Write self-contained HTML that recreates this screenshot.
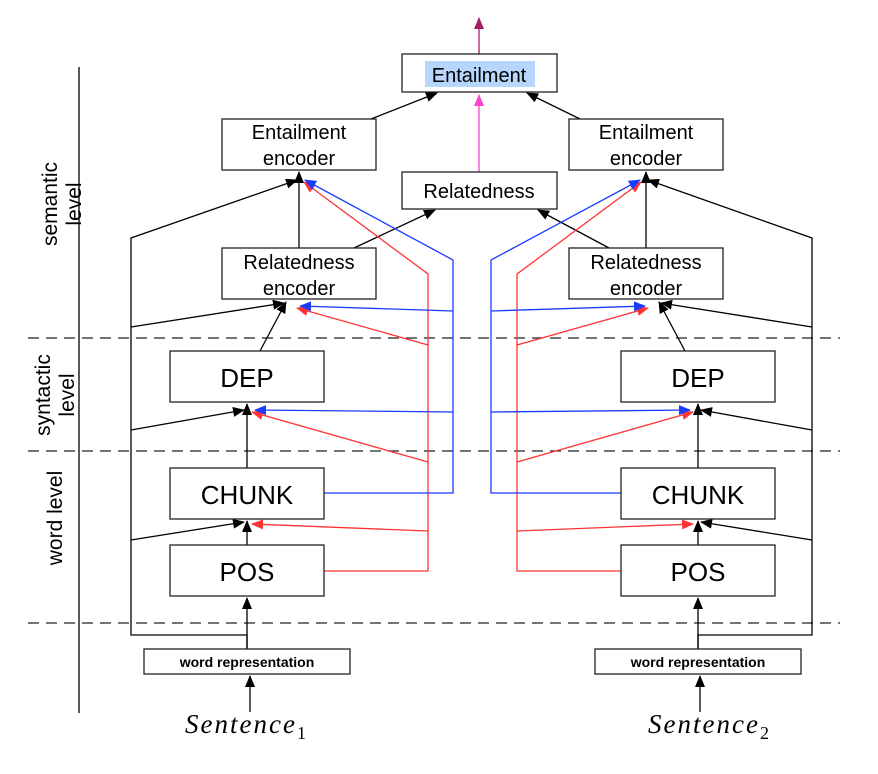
<!DOCTYPE html>
<html><head><style>body{margin:0;background:#fff}svg{display:block}</style></head><body>
<svg width="878" height="774" viewBox="0 0 878 774" xmlns="http://www.w3.org/2000/svg" font-family="Liberation Sans, Arial, sans-serif">
<defs>
<marker id="k" markerWidth="12" markerHeight="10" refX="11" refY="5" orient="auto" markerUnits="userSpaceOnUse"><path d="M0,0L12,5L0,10z" fill="#000"/></marker>
<marker id="r" markerWidth="12" markerHeight="10" refX="11" refY="5" orient="auto" markerUnits="userSpaceOnUse"><path d="M0,0L12,5L0,10z" fill="#f33"/></marker>
<marker id="b" markerWidth="12" markerHeight="10" refX="11" refY="5" orient="auto" markerUnits="userSpaceOnUse"><path d="M0,0L12,5L0,10z" fill="#1a3cff"/></marker>
<marker id="p" markerWidth="12" markerHeight="10" refX="11" refY="5" orient="auto" markerUnits="userSpaceOnUse"><path d="M0,0L12,5L0,10z" fill="#f4c"/></marker>
<marker id="m" markerWidth="12" markerHeight="10" refX="11" refY="5" orient="auto" markerUnits="userSpaceOnUse"><path d="M0,0L12,5L0,10z" fill="#a0206a"/></marker>
</defs>
<g stroke="#222" stroke-width="1.3" stroke-dasharray="11,7">
<line x1="28" y1="338" x2="840" y2="338"/><line x1="28" y1="451" x2="840" y2="451"/><line x1="28" y1="623" x2="840" y2="623"/>
</g>
<line x1="79" y1="67" x2="79" y2="713" stroke="#000" stroke-width="1.3"/>
<g font-size="21" fill="#000" text-anchor="middle">
<text transform="translate(57,204) rotate(-90)">semantic</text>
<text transform="translate(81,204) rotate(-90)">level</text>
<text transform="translate(50,395) rotate(-90)">syntactic</text>
<text transform="translate(74,395) rotate(-90)">level</text>
<text transform="translate(62,518) rotate(-90)">word level</text>
</g>
<line x1="479" y1="54" x2="479" y2="18" stroke="#a0206a" stroke-width="1.3" marker-end="url(#m)"/>
<line x1="479" y1="172" x2="479" y2="95" stroke="#f4c" stroke-width="1.3" marker-end="url(#p)"/>
<g fill="none" stroke="#000" stroke-width="1.3">
<polyline points="247,649 247,635 131,635 131,238 297,180" marker-end="url(#k)"/>
<line x1="299" y1="248" x2="299" y2="172" marker-end="url(#k)"/>
<line x1="131" y1="327" x2="284" y2="303" marker-end="url(#k)"/>
<line x1="260" y1="351" x2="286" y2="302" marker-end="url(#k)"/>
<line x1="131" y1="430" x2="244" y2="410" marker-end="url(#k)"/>
<line x1="247" y1="468" x2="247" y2="404" marker-end="url(#k)"/>
<line x1="131" y1="540" x2="244" y2="522" marker-end="url(#k)"/>
<line x1="247" y1="545" x2="247" y2="521" marker-end="url(#k)"/>
<line x1="247" y1="649" x2="247" y2="598" marker-end="url(#k)"/>
<line x1="250" y1="712" x2="250" y2="676" marker-end="url(#k)"/>
<line x1="371" y1="119" x2="437" y2="93" marker-end="url(#k)"/>
<line x1="354" y1="248" x2="435" y2="210" marker-end="url(#k)"/>
<polyline points="698,649 698,635 812,635 812,238 648,180" marker-end="url(#k)"/>
<line x1="646" y1="248" x2="646" y2="172" marker-end="url(#k)"/>
<line x1="812" y1="327" x2="661" y2="303" marker-end="url(#k)"/>
<line x1="685" y1="351" x2="659" y2="302" marker-end="url(#k)"/>
<line x1="812" y1="430" x2="701" y2="410" marker-end="url(#k)"/>
<line x1="698" y1="468" x2="698" y2="404" marker-end="url(#k)"/>
<line x1="812" y1="540" x2="701" y2="522" marker-end="url(#k)"/>
<line x1="698" y1="545" x2="698" y2="521" marker-end="url(#k)"/>
<line x1="698" y1="649" x2="698" y2="598" marker-end="url(#k)"/>
<line x1="700" y1="712" x2="700" y2="676" marker-end="url(#k)"/>
<line x1="580" y1="119" x2="527" y2="93" marker-end="url(#k)"/>
<line x1="609" y1="248" x2="538" y2="210" marker-end="url(#k)"/>
</g>
<g fill="none" stroke="#f33" stroke-width="1.3">
<polyline points="324,571 428,571 428,274 304,182" marker-end="url(#r)"/>
<line x1="428" y1="531" x2="252" y2="524" marker-end="url(#r)"/>
<line x1="428" y1="462" x2="252" y2="412" marker-end="url(#r)"/>
<line x1="428" y1="345" x2="297" y2="308" marker-end="url(#r)"/>
<polyline points="621,571 517,571 517,274 641,182" marker-end="url(#r)"/>
<line x1="517" y1="531" x2="693" y2="524" marker-end="url(#r)"/>
<line x1="517" y1="462" x2="693" y2="412" marker-end="url(#r)"/>
<line x1="517" y1="345" x2="648" y2="308" marker-end="url(#r)"/>
</g>
<g fill="none" stroke="#1a3cff" stroke-width="1.3">
<polyline points="324,493 453,493 453,260 305,180" marker-end="url(#b)"/>
<line x1="453" y1="412" x2="255" y2="410" marker-end="url(#b)"/>
<line x1="453" y1="311" x2="300" y2="306" marker-end="url(#b)"/>
<polyline points="621,493 491,493 491,260 640,180" marker-end="url(#b)"/>
<line x1="491" y1="412" x2="690" y2="410" marker-end="url(#b)"/>
<line x1="491" y1="311" x2="645" y2="306" marker-end="url(#b)"/>
</g>
<g fill="#fff" stroke="#222" stroke-width="1.3">
<rect x="402" y="54" width="155" height="38"/>
<rect x="222" y="119" width="154" height="51"/><rect x="569" y="119" width="154" height="51"/>
<rect x="402" y="172" width="155" height="37"/>
<rect x="222" y="248" width="154" height="51"/><rect x="569" y="248" width="154" height="51"/>
<rect x="170" y="351" width="154" height="51"/><rect x="621" y="351" width="154" height="51"/>
<rect x="170" y="468" width="154" height="51"/><rect x="621" y="468" width="154" height="51"/>
<rect x="170" y="545" width="154" height="51"/><rect x="621" y="545" width="154" height="51"/>
<rect x="144" y="649" width="206" height="25"/><rect x="595" y="649" width="206" height="25"/>
</g>
<rect x="425" y="61" width="110" height="26" fill="#b7d6fb"/>
<g fill="#000" text-anchor="middle">
<text x="479" y="82" font-size="20">Entailment</text>
<text x="299" y="139" font-size="20">Entailment</text><text x="299" y="165" font-size="20">encoder</text>
<text x="646" y="139" font-size="20">Entailment</text><text x="646" y="165" font-size="20">encoder</text>
<text x="479" y="198" font-size="20">Relatedness</text>
<text x="299" y="269" font-size="20">Relatedness</text><text x="299" y="295" font-size="20">encoder</text>
<text x="646" y="269" font-size="20">Relatedness</text><text x="646" y="295" font-size="20">encoder</text>
<text x="247" y="387" font-size="26">DEP</text><text x="698" y="387" font-size="26">DEP</text>
<text x="247" y="504" font-size="26">CHUNK</text><text x="698" y="504" font-size="26">CHUNK</text>
<text x="247" y="581" font-size="26">POS</text><text x="698" y="581" font-size="26">POS</text>
<text x="247" y="667" font-size="14" font-weight="bold">word representation</text>
<text x="698" y="667" font-size="14" font-weight="bold">word representation</text>
</g>
<g fill="#000" style="font-family:'Liberation Serif',serif;font-style:italic;font-size:27px;letter-spacing:2px">
<text x="185" y="733">Sentence<tspan style="font-style:normal;font-size:18px;letter-spacing:0" dy="6">1</tspan></text>
<text x="648" y="733">Sentence<tspan style="font-style:normal;font-size:18px;letter-spacing:0" dy="6">2</tspan></text>
</g>
</svg>
</body></html>
